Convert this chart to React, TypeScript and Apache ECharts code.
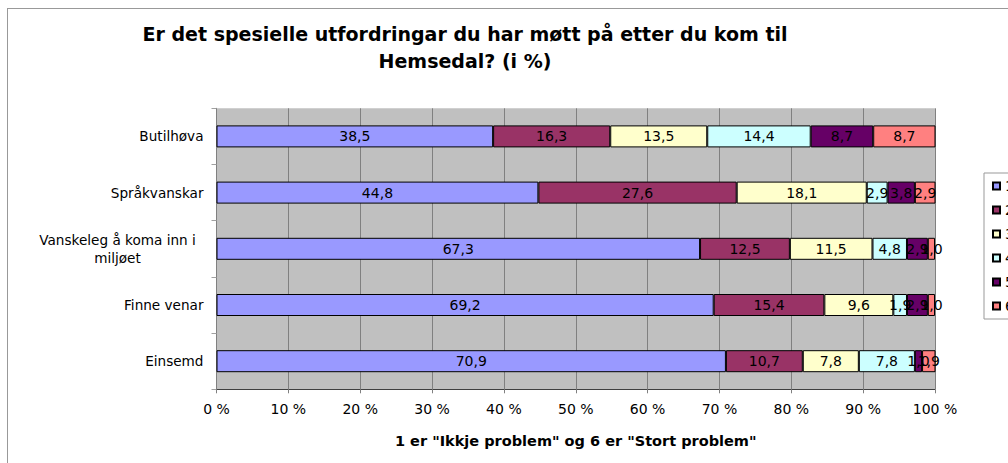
import React, { useEffect, useRef } from "react";
import * as echarts from "echarts";

const categories = ["Butilhøva", "Språkvanskar", "Vanskeleg å koma inn i\nmiljøet", "Finne venar", "Einsemd"];
const seriesNames = ["1", "2", "3", "4", "5", "6"];
const s1 = [38.5, 44.8, 67.3, 69.2, 70.9];
const s2 = [16.3, 27.6, 12.5, 15.4, 10.7];
const s3 = [13.5, 18.1, 11.5, 9.6, 7.8];
const s4 = [14.4, 2.9, 4.8, 1.9, 7.8];
const s5 = [8.7, 3.8, 2.9, 2.9, 1.0];
const s6 = [8.7, 2.9, 1.0, 1.0, 1.9];
const seriesValues = [s1, s2, s3, s4, s5, s6];
const colors = ["#9999FF", "#993366", "#FFFFCC", "#CCFFFF", "#660066", "#FF8080"];
const xTicks = [0, 10, 20, 30, 40, 50, 60, 70, 80, 90, 100];

const FONT = "DejaVu Sans, Verdana, sans-serif";

export default function App() {
  const ref = useRef<HTMLDivElement>(null);
  useEffect(() => {
    if (!ref.current) return;
    const chart = echarts.init(ref.current, undefined, { renderer: "svg" });
    chart.setOption({
      animation: false,
      backgroundColor: "#ffffff",
      textStyle: { fontFamily: FONT },
      title: {
        text: "Er det spesielle utfordringar du har møtt på etter du kom til\nHemsedal? (i %)",
        left: 452,
        top: 6,
        textAlign: "center",
        textStyle: { fontFamily: FONT, fontWeight: "bold", fontSize: 19, lineHeight: 27, color: "#000" },
      },
      legend: {
        orient: "vertical",
        left: 976,
        top: 164,
        data: seriesNames,
        icon: "rect",
        itemWidth: 7,
        itemHeight: 7,
        itemGap: 10,
        padding: [6, 8, 6, 8],
        borderColor: "#999",
        borderWidth: 1,
        textStyle: { fontFamily: FONT, fontSize: 14, color: "#000", lineHeight: 14 },
      },
      grid: {
        left: 208.5,
        top: 99.3,
        width: 718.5,
        height: 281,
        show: true,
        backgroundColor: "#C0C0C0",
        borderWidth: 0,
        containLabel: false,
      },
      xAxis: {
        type: "value",
        min: xTicks[0],
        max: xTicks[xTicks.length - 1],
        interval: 10,
        name: '1 er "Ikkje problem" og 6 er "Stort problem"',
        nameLocation: "middle",
        nameGap: 44,
        nameTextStyle: { fontFamily: FONT, fontWeight: "bold", fontSize: 14.5, color: "#000" },
        axisLine: { show: true, lineStyle: { color: "#404040", width: 1 } },
        axisTick: { show: true, length: 4, lineStyle: { color: "#808080" } },
        axisLabel: { formatter: "{value} %", fontSize: 14, color: "#000", margin: 13, fontFamily: FONT },
        splitLine: { show: true, lineStyle: { color: "#808080", width: 1 } },
      },
      yAxis: {
        type: "category",
        inverse: true,
        data: categories,
        axisLine: { show: true, lineStyle: { color: "#808080", width: 1 } },
        axisTick: { show: true, length: 5, lineStyle: { color: "#A0A0A0" } },
        axisLabel: {
          fontSize: 13.6,
          color: "#000",
          margin: 13,
          fontFamily: FONT,
          formatter: (v: string) =>
            v
              .split("\n")
              .map((l) => (v.includes("\n") ? `{c|${l}}` : l))
              .join("\n"),
          rich: { c: { width: 172, align: "center", fontSize: 13.6, color: "#000", fontFamily: FONT, lineHeight: 17.5 } },
        },
      },
      series: seriesValues.map((vals, i) => ({
        name: seriesNames[i],
        type: "bar",
        stack: "total",
        barWidth: 22,
        data: vals,
        itemStyle: { color: colors[i], borderColor: "#000", borderWidth: 1 },
        label: {
          show: true,
          position: "inside",
          color: "#000",
          fontSize: 14,
          fontFamily: FONT,
          formatter: (p: any) => Number(p.value).toFixed(1).replace(".", ","),
        },
      })),
    });
    return () => chart.dispose();
  }, []);
  return (
    <div
      style={{
        position: "fixed",
        left: 7,
        top: 8,
        width: 1001,
        height: 455,
        borderLeft: "1px solid #999",
        borderTop: "1px solid #999",
        background: "#fff",
      }}
    >
      <div ref={ref} style={{ width: 1000, height: 454 }} />
    </div>
  );
}
